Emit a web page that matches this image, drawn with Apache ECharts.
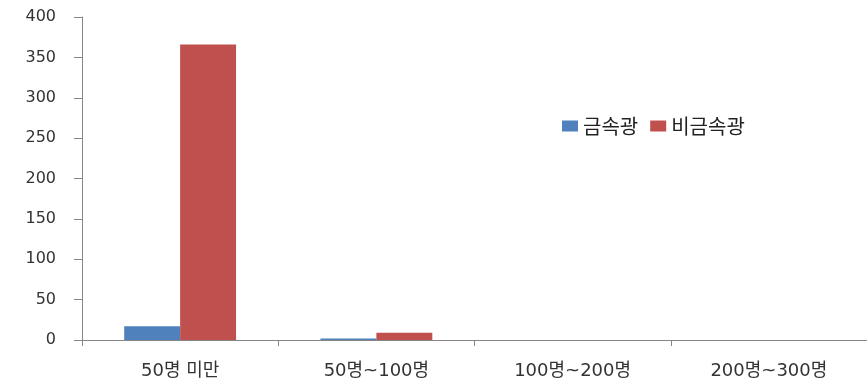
<!DOCTYPE html>
<html>
<head>
<meta charset="utf-8">
<script src="https://cdn.jsdelivr.net/npm/echarts@6/dist/echarts.min.js"></script>
<style>
  html, body { margin: 0; padding: 0; background: #fff; }
  #main { width: 867px; height: 384px; }
</style>
</head>
<body>
<div id="main"></div>
<script>
const categories = ['50명 미만', '50명~100명', '100명~200명', '200명~300명'];
const metal = [17, 2, 0, 0];       // 금속광
const nonMetal = [366, 9, 0, 0];   // 비금속광
const yTicks = [0, 50, 100, 150, 200, 250, 300, 350, 400];

const chart = echarts.init(document.getElementById('main'));
const font = 'DejaVu Sans, Noto Sans CJK KR, sans-serif';

const option = {
  animation: false,
  backgroundColor: '#fff',
  legend: {
    left: 557,
    top: 111,
    itemWidth: 16,
    itemHeight: 11,
    itemGap: 12,
    icon: 'rect',
    textStyle: { fontFamily: 'Noto Sans CJK KR, sans-serif', fontSize: 20, color: '#222' },
    data: ['금속광', '비금속광']
  },
  grid: { left: 82, top: 17, width: 788, bottom: 44 },
  xAxis: {
    type: 'category',
    data: categories,
    axisLine: { lineStyle: { color: '#868686', width: 1 } },
    axisTick: { show: true, length: 6, lineStyle: { color: '#868686' } },
    axisLabel: { margin: 22, fontFamily: font, fontSize: 18, color: '#333' }
  },
  yAxis: {
    type: 'value',
    min: yTicks[0],
    max: yTicks[yTicks.length - 1],
    interval: 50,
    splitLine: { show: false },
    axisLine: { show: true, lineStyle: { color: '#868686', width: 1 } },
    axisTick: { show: true, length: 8, lineStyle: { color: '#868686' } },
    axisLabel: { margin: 26, fontFamily: font, fontSize: 16, color: '#333' }
  },
  series: [
    {
      name: '금속광',
      type: 'bar',
      data: metal,
      barGap: '0%',
      barCategoryGap: '43%',
      itemStyle: { color: '#4F81BD' }
    },
    {
      name: '비금속광',
      type: 'bar',
      data: nonMetal,
      barGap: '0%',
      barCategoryGap: '43%',
      itemStyle: { color: '#C0504D' }
    }
  ]
};
chart.setOption(option);
</script>
</body>
</html>
